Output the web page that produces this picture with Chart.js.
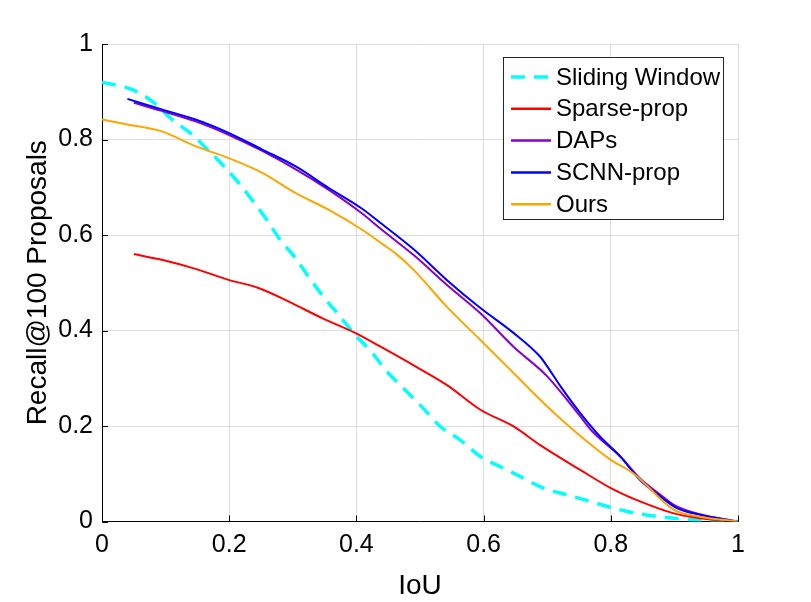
<!DOCTYPE html>
<html>
<head>
<meta charset="utf-8">
<script src="https://cdn.jsdelivr.net/npm/chart.js@4/dist/chart.umd.min.js"></script>
<style>
html,body{margin:0;padding:0;background:#fff;}
#wrap{width:811px;height:602px;}
</style>
</head>
<body>
<div id="wrap"><canvas id="c" width="811" height="602"></canvas></div>
<script>
// ---- data ----
const seriesNames = ['Sliding Window', 'Sparse-prop', 'DAPs', 'SCNN-prop', 'Ours'];
const xTicks = [0, 0.2, 0.4, 0.6, 0.8, 1];
const yTicks = [0, 0.2, 0.4, 0.6, 0.8, 1];

const slidingX = [0, 0.047, 0.079, 0.11, 0.142, 0.162, 0.191, 0.215, 0.238, 0.259, 0.28, 0.304, 0.325, 0.348, 0.372, 0.398, 0.425, 0.448, 0.474, 0.503, 0.532, 0.563, 0.595, 0.626, 0.658, 0.694, 0.731, 0.768, 0.804, 0.841, 0.878, 0.914, 0.95, 1];
const slidingY = [0.92, 0.905, 0.88, 0.842, 0.81, 0.784, 0.745, 0.709, 0.67, 0.632, 0.59, 0.552, 0.512, 0.471, 0.433, 0.391, 0.353, 0.314, 0.279, 0.24, 0.199, 0.171, 0.136, 0.115, 0.094, 0.07, 0.056, 0.042, 0.028, 0.017, 0.01, 0.005, 0.002, 0];

const sparseX = [0.05, 0.094, 0.147, 0.199, 0.246, 0.293, 0.346, 0.398, 0.438, 0.49, 0.542, 0.595, 0.647, 0.689, 0.752, 0.8, 0.846, 0.899, 0.94, 1];
const sparseY = [0.56, 0.548, 0.529, 0.506, 0.489, 0.461, 0.426, 0.395, 0.366, 0.327, 0.286, 0.234, 0.199, 0.16, 0.108, 0.07, 0.042, 0.017, 0.007, 0];

const dapsX = [0.05, 0.094, 0.147, 0.199, 0.252, 0.304, 0.356, 0.409, 0.438, 0.49, 0.542, 0.595, 0.647, 0.7, 0.752, 0.77, 0.815, 0.846, 0.878, 0.899, 0.94, 1];
const dapsY = [0.877, 0.86, 0.838, 0.81, 0.776, 0.738, 0.695, 0.645, 0.613, 0.558, 0.496, 0.436, 0.366, 0.304, 0.22, 0.19, 0.136, 0.09, 0.056, 0.035, 0.015, 0];

const scnnX = [0.04, 0.094, 0.147, 0.199, 0.252, 0.304, 0.356, 0.409, 0.438, 0.49, 0.542, 0.595, 0.647, 0.689, 0.7, 0.721, 0.752, 0.783, 0.815, 0.846, 0.878, 0.904, 0.94, 1];
const scnnY = [0.885, 0.863, 0.842, 0.814, 0.779, 0.744, 0.699, 0.655, 0.625, 0.57, 0.506, 0.447, 0.395, 0.345, 0.325, 0.283, 0.227, 0.178, 0.136, 0.087, 0.052, 0.028, 0.014, 0];

const oursX = [0, 0.042, 0.094, 0.147, 0.199, 0.252, 0.304, 0.356, 0.409, 0.44, 0.461, 0.49, 0.542, 0.595, 0.647, 0.7, 0.747, 0.8, 0.836, 0.899, 0.94, 1];
const oursY = [0.842, 0.831, 0.817, 0.786, 0.761, 0.73, 0.688, 0.653, 0.611, 0.582, 0.562, 0.527, 0.45, 0.38, 0.311, 0.241, 0.185, 0.129, 0.1, 0.025, 0.01, 0];

const colors = ['#00ffff', '#ff0000', '#8800cc', '#0000ff', '#ffa500'];

// ---- build ----
const pts = (xs, ys) => xs.map((x, i) => ({x: x, y: ys[i]}));
const allX = [slidingX, sparseX, dapsX, scnnX, oursX];
const allY = [slidingY, sparseY, dapsY, scnnY, oursY];

const FONT = '"Liberation Sans", Arial, Helvetica, sans-serif';

const datasets = seriesNames.map((name, i) => ({
  label: name,
  data: pts(allX[i], allY[i]),
  borderColor: colors[i],
  backgroundColor: colors[i],
  borderWidth: i === 0 ? 3.5 : 2,
  borderDash: i === 0 ? [14, 9] : [],
  pointRadius: 0,
  fill: false,
  cubicInterpolationMode: 'monotone',
  order: 5 - i
}));

const inwardTicks = {
  id: 'inwardTicks',
  afterDraw(chart) {
    const ctx = chart.ctx, xs = chart.scales.x, ys = chart.scales.y;
    const a = chart.chartArea;
    ctx.save();
    ctx.strokeStyle = '#000';
    ctx.lineWidth = 1;
    ctx.beginPath();
    xTicks.forEach(v => {
      const p = Math.round(xs.getPixelForValue(v)) + 0.5;
      ctx.moveTo(p, a.bottom); ctx.lineTo(p, a.bottom - 6);
    });
    yTicks.forEach(v => {
      const p = Math.round(ys.getPixelForValue(v)) + 0.5;
      ctx.moveTo(a.left, p); ctx.lineTo(a.left + 6, p);
    });
    ctx.stroke();
    ctx.restore();
  }
};

const boxLegend = {
  id: 'boxLegend',
  afterDraw(chart) {
    const ctx = chart.ctx;
    const bx = 503.5, by = 57.5, bw = 220, bh = 162;
    ctx.save();
    ctx.fillStyle = '#fff';
    ctx.fillRect(bx, by, bw, bh);
    ctx.strokeStyle = '#262626';
    ctx.lineWidth = 1;
    ctx.strokeRect(bx, by, bw, bh);
    ctx.font = '24px ' + FONT;
    ctx.textBaseline = 'middle';
    ctx.textAlign = 'left';
    chart.data.datasets.forEach((ds, i) => {
      const cy = 77 + i * 31.8;
      ctx.beginPath();
      ctx.strokeStyle = ds.borderColor;
      ctx.lineWidth = i === 0 ? ds.borderWidth : 2.5;
      ctx.setLineDash(ds.borderDash || []);
      ctx.moveTo(511, cy); ctx.lineTo(551, cy);
      ctx.stroke();
      ctx.setLineDash([]);
      ctx.fillStyle = '#000';
      ctx.fillText(ds.label, 556, cy + 1);
    });
    ctx.restore();
  }
};

new Chart(document.getElementById('c'), {
  type: 'line',
  data: { datasets: datasets },
  plugins: [inwardTicks, boxLegend],
  options: {
    responsive: false,
    animation: false,
    devicePixelRatio: 1,
    layout: { padding: { top: 44, right: 73, left: 0, bottom: 0 } },
    plugins: { legend: { display: false }, tooltip: { enabled: false } },
    scales: {
      x: {
        type: 'linear', min: 0, max: 1,
        afterBuildTicks: s => { s.ticks = xTicks.map(v => ({value: v})); },
        afterFit: s => { s.height = 80.5; },
        grid: { color: '#dcdcdc', lineWidth: 1, drawTicks: false },
        border: { display: true, color: '#000', width: 1 },
        ticks: { color: '#000', padding: 9, font: { family: FONT, size: 25 },
                 callback: v => String(v), maxRotation: 0 },
        title: { display: true, text: 'IoU', color: '#000',
                 font: { family: FONT, size: 28, lineHeight: 1 }, padding: { top: 0, bottom: 2 } }
      },
      y: {
        type: 'linear', min: 0, max: 1,
        afterBuildTicks: s => { s.ticks = yTicks.map(v => ({value: v})); },
        afterFit: s => { s.width = 102; },
        grid: { color: '#dcdcdc', lineWidth: 1, drawTicks: false },
        border: { display: true, color: '#000', width: 1 },
        ticks: { color: '#000', padding: 9, font: { family: FONT, size: 25 },
                 callback: v => String(v) },
        title: { display: true, text: 'Recall@100 Proposals', color: '#000',
                 font: { family: FONT, size: 28, lineHeight: 1 }, padding: { top: 24, bottom: 0 } }
      }
    }
  }
});
</script>
</body>
</html>
